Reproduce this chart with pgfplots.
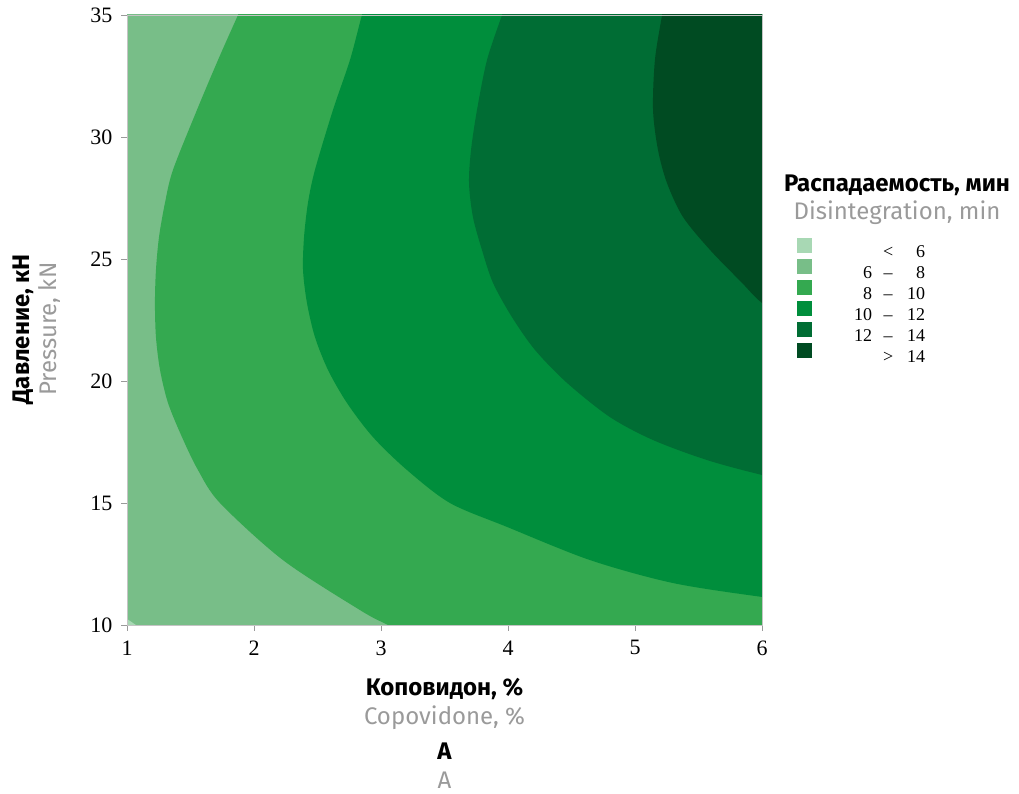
\documentclass[border=0pt]{standalone}
\usepackage{pgfplots}
\pgfplotsset{compat=1.18}
\usepackage{fontspec}
\setmainfont{Liberation Serif}
\newfontfamily\labelfont{Fira Sans}

% disintegration-time classes
\definecolor{lt6}{HTML}{A8D8B4}
\definecolor{r68}{HTML}{78BE88}
\definecolor{r810}{HTML}{34A950}
\definecolor{r1012}{HTML}{008E3C}
\definecolor{r1214}{HTML}{006D34}
\definecolor{gt14}{HTML}{004B22}
\definecolor{subgray}{HTML}{9A9A9A}
\definecolor{framegray}{HTML}{C4C4C4}

% square colour swatches in the legend
\pgfplotsset{legend image code/.code={\fill[#1] (0pt,-1pt) rectangle (15pt,14pt);}}

% legend text: lower bound, sign, upper bound in aligned columns
\newcommand\lrange[3]{\makebox[60pt][r]{#1}\makebox[32pt]{#2}\makebox[21pt][r]{#3}}

\begin{document}
\begin{tikzpicture}
\path[use as bounding box] (0pt,0pt) rectangle (1019pt,794pt);
\begin{axis}[
  at={(127pt,169pt)}, anchor=south west,
  scale only axis, width=635pt, height=610pt,
  xmin=1, xmax=6, ymin=10, ymax=35,
  xtick={1,...,6}, ytick={10,15,...,35},
  tick pos=left, tick align=outside, major tick length=6pt,
  axis on top,
  axis line style={framegray, line width=0.8pt},
  tick style={subgray, line width=0.6pt},
  /pgf/number format/assume math mode=true,
  ticklabel style={font=\fontsize{22}{22}\selectfont},
  xticklabel style={yshift=-6pt},
  yticklabel style={xshift=-5pt},
  xlabel={\textbf{Коповидон, \%}\\\textcolor{subgray}{Copovidone, \%}\\[6pt]\textbf{A}\\\textcolor{subgray}{A}},
  xlabel style={font=\labelfont\fontsize{24}{29}\selectfont, align=center,
    at={(axis description cs:0.5,-0.082)}, anchor=north},
  ylabel={\textbf{Давление, кН}\\\textcolor{subgray}{Pressure, kN}},
  ylabel style={font=\labelfont\fontsize{24}{27}\selectfont, align=center,
    at={(axis description cs:-0.099,0.485)}, anchor=south},
  legend cell align=left,
  legend style={at={(axis description cs:1.0551,0.6344)}, anchor=north west,
    draw=none, fill=none, inner sep=0pt, row sep=0.3pt, column sep=0pt,
    font=\fontsize{18}{18}\selectfont, nodes={inner sep=0pt}},
]
% 6-8 min over the whole design space
\addplot[fill=r68, draw=none, forget plot]
  coordinates {(0,0) (7,0) (7,40) (0,40)} -- cycle;
% < 6 min: corner at the lowest copovidone and pressure
\addplot[fill=lt6, draw=none, forget plot]
  coordinates {(1,10.25) (1.07,10) (0.9,9.9) (0.9,10.3)} -- cycle;
% 8-10 min
\addplot[fill=r810, draw=none, smooth, forget plot]
  coordinates {(1.96,36) (1.874,35) (1.717,33.16) (1.551,31.11) (1.362,28.65)
    (1.299,27.30) (1.252,25.90) (1.228,24.55) (1.220,23.20) (1.228,21.80)
    (1.260,20.45) (1.323,19.10) (1.433,17.70) (1.559,16.35) (1.732,15.00)
    (2.228,12.66) (2.835,10.61) (3.055,10) (3.45,9) (7,9) (7,36)} -- cycle;
% 10-12 min
\addplot[fill=r1012, draw=none, smooth, forget plot]
  coordinates {(2.91,36) (2.850,35) (2.756,33.16) (2.622,31.11) (2.480,28.65)
    (2.425,27.30) (2.394,25.90) (2.386,24.55) (2.417,23.20) (2.480,21.80)
    (2.583,20.45) (2.732,19.10) (2.937,17.70) (3.205,16.35) (3.543,15.00)
    (3.992,14.02) (4.646,12.66) (5.299,11.72) (6,11.15)
    (6.5,10.85) (7,10.8) (7,36)} -- cycle;
% 12-14 min
\addplot[fill=r1214, draw=none, smooth, forget plot]
  coordinates {(4.02,36) (3.953,35) (3.835,33.16) (3.756,31.11) (3.709,29.47)
    (3.693,28.11) (3.724,26.72) (3.795,25.37) (3.882,24.02) (4.031,22.62)
    (4.213,21.27) (4.465,19.92) (4.803,18.52) (5.142,17.58) (5.567,16.76)
    (6,16.15) (6.5,15.6) (7,15.4) (7,36)} -- cycle;
% > 14 min
\addplot[fill=gt14, draw=none, smooth, forget plot]
  coordinates {(5.245,36) (5.213,35) (5.157,33.16) (5.142,31.11) (5.181,29.47)
    (5.252,28.11) (5.378,26.72) (5.591,25.37) (5.843,24.02) (6,23.20)
    (6.3,22.2) (7,21) (7,36)} -- cycle;

\addlegendimage{fill=lt6, draw=none}
\addlegendentry{\lrange{}{<}{6}}
\addlegendimage{fill=r68, draw=none}
\addlegendentry{\lrange{6}{–}{8}}
\addlegendimage{fill=r810, draw=none}
\addlegendentry{\lrange{8}{–}{10}}
\addlegendimage{fill=r1012, draw=none}
\addlegendentry{\lrange{10}{–}{12}}
\addlegendimage{fill=r1214, draw=none}
\addlegendentry{\lrange{12}{–}{14}}
\addlegendimage{fill=gt14, draw=none}
\addlegendentry{\lrange{}{>}{14}}
\end{axis}
% legend heading
\node[anchor=base, font=\labelfont\bfseries\fontsize{24}{24}\selectfont]
  at (897pt,602pt) {Распадаемость, мин};
\node[anchor=base, text=subgray, font=\labelfont\fontsize{24}{24}\selectfont]
  at (897pt,574pt) {Disintegration, min};
\end{tikzpicture}
\end{document}
